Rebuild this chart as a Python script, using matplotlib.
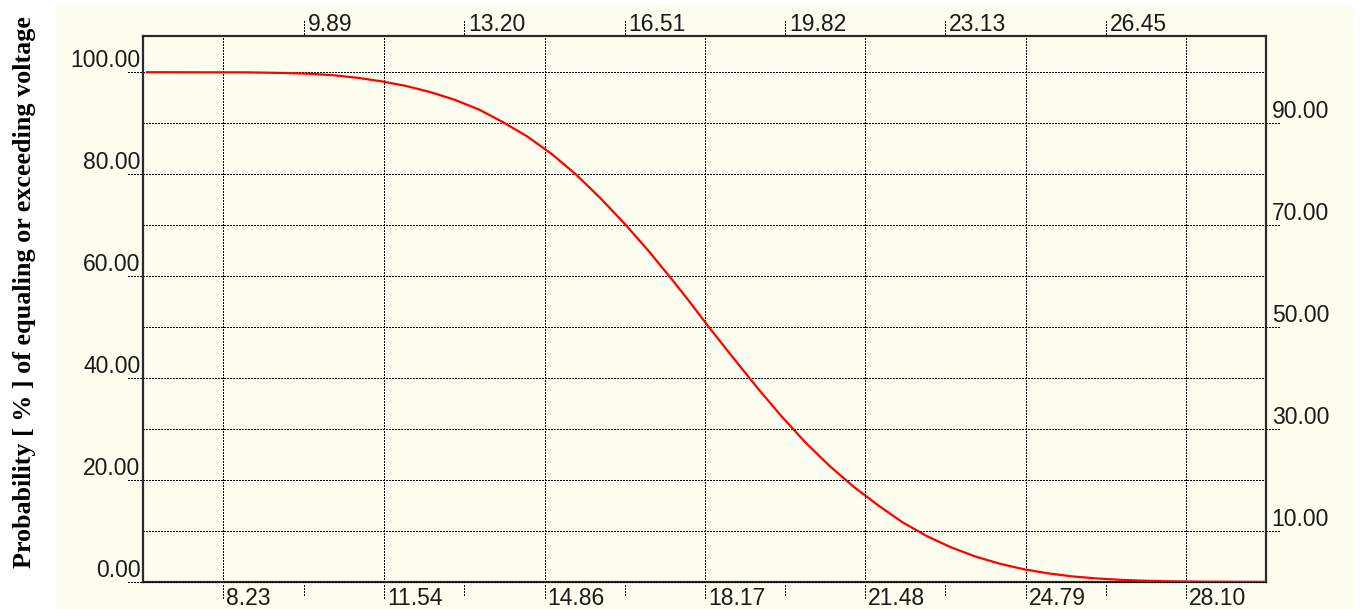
import matplotlib
matplotlib.use("Agg")
import matplotlib.pyplot as plt
from matplotlib.patches import Rectangle

# ---- data ----
voltage = [6.65, 8.70, 9.50, 10.00, 10.50, 11.00, 11.50, 12.00, 12.50, 13.00,
           13.50, 14.00, 14.50, 15.00, 15.50, 16.00, 16.50, 17.00, 17.50, 17.85,
           18.25, 18.75, 19.25, 19.75, 20.25, 20.75, 21.25, 21.75, 22.25, 22.75,
           23.25, 23.75, 24.25, 24.75, 25.25, 25.75, 26.25, 26.75, 27.25, 27.75,
           28.50, 29.72]
probability = [100.0, 99.97, 99.85, 99.7, 99.4, 98.9, 98.2, 97.3, 96.1, 94.6,
               92.7, 90.2, 87.4, 84.0, 80.0, 75.4, 70.4, 65.0, 59.2, 55.0,
               50.0, 44.0, 38.1, 32.5, 27.3, 22.7, 18.6, 15.0, 11.7, 9.0,
               6.8, 5.0, 3.6, 2.5, 1.7, 1.1, 0.7, 0.42, 0.25, 0.14,
               0.05, 0.01]

bottom_ticks = [8.23, 11.54, 14.86, 18.17, 21.48, 24.79, 28.10]
bottom_labels = ["8.23", "11.54", "14.86", "18.17", "21.48", "24.79", "28.10"]
top_ticks = [9.89, 13.20, 16.51, 19.82, 23.13, 26.45]
top_labels = ["9.89", "13.20", "16.51", "19.82", "23.13", "26.45"]
left_ticks = [0, 20, 40, 60, 80, 100]
left_labels = ["0.00", "20.00", "40.00", "60.00", "80.00", "100.00"]
right_ticks = [10, 30, 50, 70, 90]
right_labels = ["10.00", "30.00", "50.00", "70.00", "90.00"]
ylabel = "Probability [ % ] of equaling or exceeding voltage"

XMIN, XMAX = 6.575, 29.745
YMIN, YMAX = 0.0, 107.1

W, H = 1361, 609
fig = plt.figure(figsize=(W / 100, H / 100), dpi=100)
fig.patch.set_facecolor("white")

CREAM = "#FDFDF0"
bg = Rectangle((56 / W, 0), (1353 - 56) / W, (609 - 5) / H,
               transform=fig.transFigure, facecolor=CREAM,
               edgecolor="none", zorder=-10)
fig.patches.append(bg)

ax_l, ax_r, ax_t, ax_b = 143.3, 1265.7, 36, 582
ax = fig.add_axes([ax_l / W, 1 - ax_b / H, (ax_r - ax_l) / W, (ax_b - ax_t) / H])
ax.set_zorder(1)
ax.set_facecolor(CREAM)
ax.set_xlim(XMIN, XMAX)
ax.set_ylim(YMIN, YMAX)
ax.set_xticks([])
ax.set_yticks([])
for s in ax.spines.values():
    s.set_color("#2b2b2b")
    s.set_linewidth(1.6)

dot = (0, (1, 1))
gkw = dict(color="#000000", lw=0.9, ls=dot, zorder=1, antialiased=False)
for v in range(10, 101, 10):
    ax.axhline(v, **gkw)
for v in bottom_ticks:
    ax.axvline(v, **gkw)
ax.axhline(0, color="#000000", lw=0.9, ls=dot, zorder=4, clip_on=False,
           antialiased=False)

ax.plot(voltage, probability, color="#FF0000", lw=1.6, zorder=3)

FONT = "Liberation Sans"
tkw = dict(fontsize=16.5, family=FONT, color="#1a1a1a", textcoords="offset pixels")
tick_kw = dict(color="#000000", lw=0.9, ls=dot, clip_on=False, antialiased=False)

# bottom ticks & labels
xb = ax.get_xaxis_transform()
for v, lab in zip(bottom_ticks, bottom_labels):
    ax.plot([v, v], [-0.006, -0.032], transform=xb, **tick_kw)
    ax.annotate(lab, xy=(v, 0), xycoords=xb, xytext=(3, -23),
                ha="left", va="baseline", **tkw)
for v in top_ticks:
    ax.plot([v, v], [-0.006, -0.028], transform=xb, **tick_kw)
# top ticks & labels
for v, lab in zip(top_ticks, top_labels):
    ax.plot([v, v], [1.003, 1.028], transform=xb, **tick_kw)
    ax.annotate(lab, xy=(v, 1), xycoords=xb, xytext=(4, 5),
                ha="left", va="baseline", **tkw)
# left ticks & labels
yb = ax.get_yaxis_transform()
for v, lab in zip(left_ticks, left_labels):
    ax.plot([-0.0135, 0], [v, v], transform=yb, **tick_kw)
    ax.annotate(lab, xy=(0, v), xycoords=yb, xytext=(-3, 5),
                ha="right", va="baseline", **tkw)
# right ticks & labels
for v, lab in zip(right_ticks, right_labels):
    ax.plot([1, 1.012], [v, v], transform=yb, **tick_kw)
    ax.annotate(lab, xy=(1, v), xycoords=yb, xytext=(6, 5),
                ha="left", va="baseline", **tkw)

fig.text(25 / W, 1 - 292 / H, ylabel, rotation=90, ha="center", va="center",
         family="Liberation Serif", fontweight="bold", fontsize=18.8,
         color="#000000")

fig.savefig("out.png", dpi=100, facecolor="white")
